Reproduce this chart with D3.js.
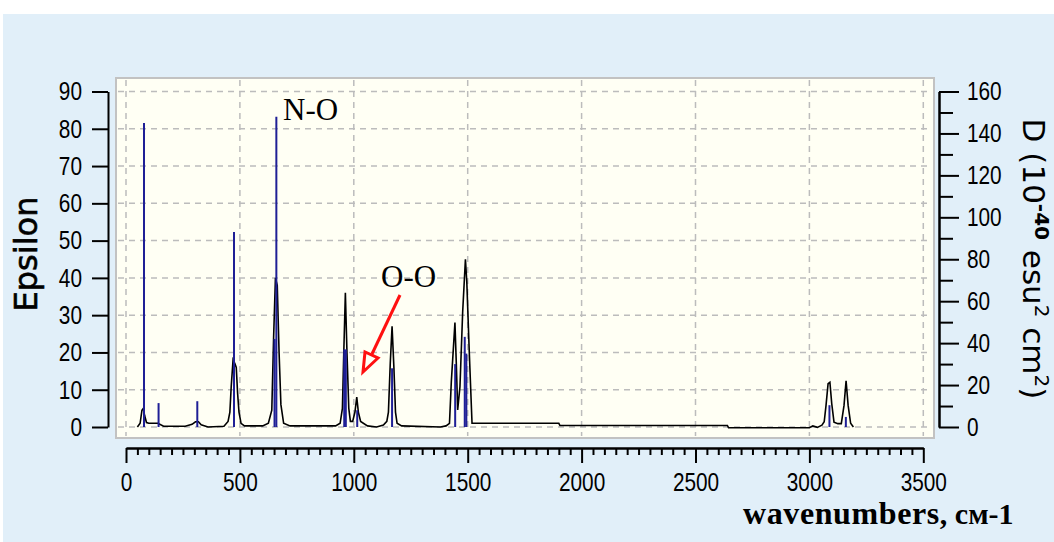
<!DOCTYPE html>
<html>
<head>
<meta charset="utf-8">
<script src="https://cdn.jsdelivr.net/npm/d3@7"></script>
<style>
  body { margin: 0; background: #fff; }
  svg { display: block; }
</style>
</head>
<body>
<svg id="chart" width="1054" height="542"></svg>
<script>
// tick labels
const wnTicks = [0, 500, 1000, 1500, 2000, 2500, 3000, 3500];
const epsTicks = [0, 10, 20, 30, 40, 50, 60, 70, 80, 90];
const dTicks = [0, 20, 40, 60, 80, 100, 120, 140, 160];

// broadened spectrum, [wavenumber, epsilon]
const spectrum = [
  [50, 0], [62, 1], [70, 4.5], [76, 5], [82, 3], [90, 1.2], [100, 1], [140, 1],
  [165, 0.2], [260, 0.2], [290, 0.7], [305, 1.4], [318, 1.4], [330, 0.6], [360, 0],
  [430, 0.2], [448, 1.5], [456, 4], [462, 11], [470, 18], [478, 17], [484, 16],
  [490, 9], [496, 4], [505, 1], [520, 0.3], [600, 0.3], [625, 1], [640, 4.5],
  [648, 24], [656, 40], [664, 38], [672, 20], [680, 6], [692, 1], [720, 0.3],
  [920, 0.3], [940, 1], [950, 5], [956, 20], [963, 36], [970, 20], [978, 5],
  [985, 1.5], [995, 1.5], [1005, 4], [1013, 8], [1020, 4], [1030, 1.5], [1060, 0.3],
  [1100, 0], [1130, 0.5], [1145, 1.5], [1152, 4], [1160, 17], [1168, 27], [1176, 16],
  [1183, 4], [1190, 1], [1210, 0.3], [1380, 0], [1405, 0.3], [1420, 1], [1428, 12],
  [1444, 28], [1450, 17], [1456, 4.6], [1466, 10.8], [1478, 31], [1490, 45],
  [1496, 39], [1507, 20], [1519, 1], [1528, 1], [1900, 1], [1905, 0.4], [2640, 0.4],
  [2645, -0.2], [3000, -0.2], [3015, 0.3], [3035, -0.1], [3055, 0.5], [3065, 1.4],
  [3073, 5.8], [3082, 11.6], [3090, 12], [3098, 6.3], [3108, 1.3], [3125, 0.9],
  [3140, 0.9], [3152, 5.8], [3161, 12.4], [3170, 5.8], [3181, 1], [3193, 0]
];

// dipole strengths (sticks), D in 10^-40 esu^2 cm^2
const stickWn = [79, 143, 313, 474, 652, 660, 958, 965, 1015, 1168, 1445, 1487, 1494, 3088, 3160];
const stickD  = [145, 11.4, 12.3, 93, 42, 148, 37, 37, 8, 28, 30, 43, 35, 10.4, 4.8];

const svg = d3.select('#chart');

svg.append('rect')
  .attr('x', 3).attr('y', 14)
  .attr('width', 1051).attr('height', 528)
  .attr('fill', '#e1eff9');

const x = d3.scaleLinear().domain([0, 3500]).range([126, 923.3]);
const yL = d3.scaleLinear().domain([0, 90]).range([427, 91.5]);
const yR = d3.scaleLinear().domain([0, 160]).range([427, 91.5]);

// plot box
const box = {x: 116, y: 78, w: 818, h: 360};
svg.append('rect')
  .attr('x', box.x).attr('y', box.y)
  .attr('width', box.w).attr('height', box.h)
  .attr('fill', '#fffff4')
  .attr('stroke', '#c2c2c2')
  .attr('stroke-width', 2);

svg.append('clipPath').attr('id', 'clip')
  .append('rect')
  .attr('x', box.x + 1).attr('y', box.y + 1)
  .attr('width', box.w - 2).attr('height', box.h - 2);

// dashed grid
const grid = svg.append('g')
  .attr('stroke', '#bcbcbc')
  .attr('stroke-width', 1.5)
  .attr('stroke-dasharray', '6,5');
grid.selectAll('.hg').data(epsTicks).enter().append('line')
  .attr('x1', box.x + 2).attr('x2', box.x + box.w - 2)
  .attr('y1', d => yL(d)).attr('y2', d => yL(d));
grid.selectAll('.vg').data(wnTicks).enter().append('line')
  .attr('y1', box.y + 2).attr('y2', box.y + box.h - 2)
  .attr('x1', d => x(d)).attr('x2', d => x(d));

const plot = svg.append('g').attr('clip-path', 'url(#clip)');

const line = d3.line()
  .x(d => x(d[0]))
  .y(d => yL(d[1]));

plot.append('path')
  .datum(spectrum)
  .attr('fill', 'none')
  .attr('stroke', '#000')
  .attr('stroke-width', 1.6)
  .attr('d', line);

plot.selectAll('.stick')
  .data(stickWn)
  .enter().append('line')
  .attr('class', 'stick')
  .attr('x1', d => x(d)).attr('x2', d => x(d))
  .attr('y1', yR(0))
  .attr('y2', (d, i) => yR(stickD[i]))
  .attr('stroke', '#1f1f96')
  .attr('stroke-width', 2);

// axes
const tickFont = '"Liberation Sans", Arial, sans-serif';
const squeeze = 0.8;

function styleAxis(g) {
  g.selectAll('path, line').attr('stroke', '#000').attr('stroke-width', 2);
  g.selectAll('text')
    .attr('fill', '#000')
    .attr('x', function() { return (+d3.select(this).attr('x') || 0) / squeeze; })
    .attr('transform', `scale(${squeeze},1)`)
    .style('font-family', tickFont)
    .style('font-size', '26px');
}

svg.append('g')
  .attr('transform', 'translate(108,0)')
  .call(d3.axisLeft(yL).tickValues(epsTicks).tickSize(16).tickSizeOuter(0).tickPadding(10))
  .call(styleAxis);

svg.append('g')
  .attr('transform', 'translate(939,0)')
  .call(d3.axisRight(yR).tickValues(d3.range(10, 160, 20)).tickSize(14).tickSizeOuter(0).tickFormat(''))
  .call(styleAxis);
svg.append('g')
  .attr('transform', 'translate(939,0)')
  .call(d3.axisRight(yR).tickValues(dTicks).tickSize(20).tickSizeOuter(0).tickPadding(8))
  .call(styleAxis);

svg.append('g')
  .attr('transform', 'translate(0,448)')
  .call(d3.axisBottom(x).tickValues(d3.range(50, 3500, 50).filter(d => d % 500)).tickSize(7).tickSizeOuter(0).tickFormat(''))
  .call(styleAxis);
svg.append('g')
  .attr('transform', 'translate(0,448)')
  .call(d3.axisBottom(x).tickValues(wnTicks).tickSize(15).tickSizeOuter(0).tickPadding(10).tickFormat(d3.format('d')))
  .call(styleAxis);

// axis titles
svg.append('text')
  .attr('transform', 'translate(37,254) rotate(-90)')
  .attr('text-anchor', 'middle')
  .attr('stroke', '#000').attr('stroke-width', 0.6)
  .style('font-family', '"DejaVu Sans", sans-serif')
  .style('font-size', '32px')
  .text('Epsilon');

const rt = svg.append('text')
  .attr('transform', 'translate(1023,259) rotate(90)')
  .attr('text-anchor', 'middle')
  .style('font-family', '"DejaVu Sans", sans-serif')
  .style('font-size', '31px');
rt.append('tspan').text('D (10');
rt.append('tspan').attr('dy', -12).style('font-size', '20px').style('font-weight', 'bold').text('-40');
rt.append('tspan').attr('dy', 12).text(' esu');
rt.append('tspan').attr('dy', -12).style('font-size', '20px').text('2');
rt.append('tspan').attr('dy', 12).text(' cm');
rt.append('tspan').attr('dy', -12).style('font-size', '20px').text('2');
rt.append('tspan').attr('dy', 12).text(')');

const bt = svg.append('text')
  .attr('x', 743).attr('y', 524)
  .style('font-family', '"Liberation Serif", "Times New Roman", serif');
bt.append('tspan').style('font-weight', 'bold').style('font-size', '32px')
  .style('letter-spacing', '0.6px').text('wavenumbers');
bt.append('tspan').style('font-weight', 'bold').style('font-size', '30px').text(', см-1');

// annotations
const serif = '"Liberation Serif", "Times New Roman", serif';
svg.append('text')
  .attr('x', 283).attr('y', 120)
  .style('font-family', serif).style('font-size', '31px')
  .text('N-O');
svg.append('text')
  .attr('x', 381).attr('y', 287)
  .style('font-family', serif).style('font-size', '31px')
  .text('O-O');

const arrow = svg.append('g').attr('stroke', '#ff1010').attr('stroke-width', 3).attr('fill', 'none');
arrow.append('line')
  .attr('x1', 400).attr('y1', 295)
  .attr('x2', 372).attr('y2', 354);
arrow.append('path')
  .attr('d', 'M363,372 L365,352 L378,358 Z')
  .attr('fill', '#fffff4')
  .attr('stroke-linejoin', 'miter');
</script>
</body>
</html>
